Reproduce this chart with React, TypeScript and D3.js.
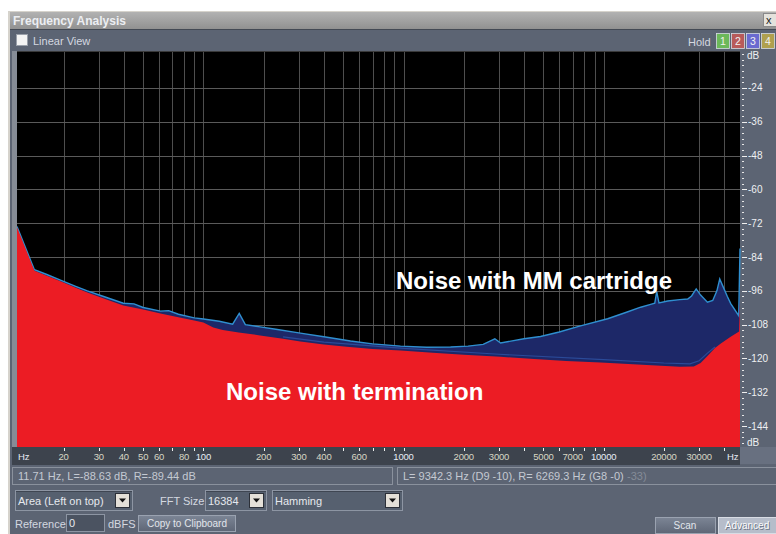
import React from 'react';
import * as d3 from 'd3';

const W = 776;
const H = 534;

// Noise with termination (red area) — [Hz]
const terminationFreq = [11.71, 14.3, 16.5, 19.3, 23, 26.3, 32, 39.8, 50, 61, 75, 90, 100, 112, 125, 150, 192, 250, 305, 400, 520, 700, 966, 1400, 2000, 3055, 4500, 6500, 9660, 14000, 19280, 24000, 28200, 30500, 33200, 36000, 38500, 43300, 47500, 48000];
const terminationDb = [-73.4, -88.9, -90.6, -92.6, -94.9, -96.6, -98.8, -101.2, -102.6, -104.0, -105.4, -106.5, -107.2, -109.0, -109.9, -110.8, -111.8, -113.0, -114.0, -115.0, -115.8, -116.6, -117.2, -118.0, -118.7, -119.4, -120.2, -120.9, -121.4, -122.0, -122.6, -122.9, -122.8, -121.6, -118.9, -116.3, -114.7, -112.2, -110.4, -99];

// Noise with MM cartridge (navy area, top outline)
const cartridgeFreq = [11.71, 14.3, 16.5, 19.3, 23, 26.3, 32, 39.8, 45, 50, 61, 67, 75, 90, 100, 120, 140, 151, 162, 192, 230, 305, 400, 543, 700, 966, 1300, 1718, 2100, 2500, 2860, 3055, 4000, 4834, 6000, 7500, 10470, 13000, 15310, 17180, 18000, 18410, 18900, 20890, 24000, 26300, 27500, 29000, 30500, 33000, 35080, 36800, 38020, 39500, 41500, 43150, 47300, 48000];
const cartridgeDb = [-73.2, -88.5, -90.2, -92.2, -94.4, -96.0, -98.1, -100.4, -100.6, -101.9, -103.2, -103.0, -104.3, -105.6, -106.0, -106.8, -107.8, -104.0, -108.0, -108.8, -109.6, -111.0, -112.3, -113.8, -114.8, -115.6, -116.0, -115.9, -115.6, -115.0, -113.0, -114.5, -113.0, -112.2, -110.6, -108.6, -105.9, -103.6, -101.8, -100.8, -100.4, -96.3, -100.3, -99.6, -99.1, -98.9, -97.8, -95.3, -97.5, -100.0, -99.4, -96.0, -91.8, -94.5, -98.0, -100.5, -104.8, -81];

// second (lower) cartridge trace, just above the termination curve
const cartridgeLowFreq = [250, 400, 1000, 3000, 10000, 20000, 27000, 30000, 33000, 36000];
const cartridgeLowDb = [-112.3, -114.2, -116.4, -118.5, -120.4, -121.6, -121.9, -120.8, -118.1, -115.9];

const dbTicks = [-24, -36, -48, -60, -72, -84, -96, -108, -120, -132, -144];
const freqLabels = [20, 30, 40, 50, 60, 80, 100, 200, 300, 400, 600, 1000, 2000, 3000, 5000, 7000, 10000, 20000, 30000];

const PL = 17, PR = 740, PT = 51, PB = 447;

export default function App() {
  const x = d3.scaleLog().domain([11.71, 48000]).range([PL, PR]);
  const y = d3.scaleLinear().domain([-151.4, -10.9]).range([PB, PT]);

  const term = terminationFreq.map((f, i) => [f, terminationDb[i]] as [number, number]);
  const cart = cartridgeFreq.map((f, i) => [f, cartridgeDb[i]] as [number, number]);
  const cartLow = cartridgeLowFreq.map((f, i) => [f, cartridgeLowDb[i]] as [number, number]);

  const area = d3.area<[number, number]>().x(d => x(d[0])).y0(PB).y1(d => y(d[1]));
  const line = d3.line<[number, number]>().x(d => x(d[0])).y(d => y(d[1]));

  const gridFreqs: number[] = [];
  for (let dec = 10; dec <= 10000; dec *= 10) {
    for (let m = 1; m <= 9; m++) {
      const f = dec * m;
      if (f > 11.71 && f < 48000) gridFreqs.push(f);
    }
  }
  const minorDb = d3.range(-150, -11, 2);

  const ui = '"Liberation Sans", Arial, sans-serif';
  const txt = '#d4d8e0';

  const dropdown = (x0: number, w: number, label: string) => (
    <g>
      <rect x={x0 + 0.5} y={490.5} width={w} height={20} fill="#56606f" stroke="#8d95a3" />
      <rect x={x0 + 1} y={491} width={w - 1} height={1} fill="#3f4652" />
      <text x={x0 + 3} y={505} fontSize={11} fill="#e6e9ee" fontFamily={ui}>{label}</text>
      <rect x={x0 + w - 16.5} y={493.5} width={14} height={14} fill="#e4e0d8" stroke="#2c3038" />
      <path d={`M${x0 + w - 13},${498.5} h7 l-3.5,4 z`} fill="#111" />
    </g>
  );

  return (
    <svg width={W} height={H} style={{ position: 'absolute', left: 0, top: 0, display: 'block' }}>
      <defs>
        <linearGradient id="title" x1="0" y1="0" x2="0" y2="1">
          <stop offset="0" stopColor="#b2b2b2" />
          <stop offset="1" stopColor="#919191" />
        </linearGradient>
        <linearGradient id="btn" x1="0" y1="0" x2="0" y2="1">
          <stop offset="0" stopColor="#7c8595" />
          <stop offset="1" stopColor="#5e6676" />
        </linearGradient>
        <clipPath id="plot">
          <rect x={PL} y={PT} width={PR - PL + 1} height={PB - PT} />
        </clipPath>
      </defs>
      <rect x={0} y={0} width={W} height={H} fill="#ffffff" />
      {/* window frame */}
      <rect x={8} y={11} width={W - 8} height={H - 11} fill="#d6d3cc" />
      <rect x={10} y={12} width={W - 10} height={17} fill="url(#title)" />
      <text x={13} y={25} fontSize={12} fontWeight="bold" fill="#eceef2" fontFamily={ui}>Frequency Analysis</text>
      <rect x={763.5} y={13.5} width={13} height={13} fill="#e4e2dc" stroke="#8a8a8a" />
      <text x={766} y={24} fontSize={11} fill="#222" fontFamily={ui}>x</text>
      <rect x={10} y={29} width={W - 10} height={H - 29} fill="#5c6473" />
      <rect x={10} y={29} width={W - 10} height={1} fill="#434954" />

      {/* header row */}
      <rect x={16.5} y={34.5} width={11} height={11} fill="#f4f4f4" stroke="#9aa0aa" />
      <text x={33} y={45} fontSize={11} fill={txt} fontFamily={ui}>Linear View</text>
      <text x={688} y={46} fontSize={11} fill={txt} fontFamily={ui}>Hold</text>
      {[['1', '#6cb85a'], ['2', '#b85a5a'], ['3', '#6a6ad0'], ['4', '#b0a04e']].map((b, i) => (
        <g key={b[0]}>
          <rect x={716.5 + i * 15} y={33.5} width={13} height={15} fill={b[1]} stroke="#d8dce4" strokeWidth={0.8} />
          <text x={723 + i * 15} y={45} fontSize={10.5} fill="#f2f2f2" textAnchor="middle" fontFamily={ui}>{b[0]}</text>
        </g>
      ))}

      {/* plot */}
      <rect x={12} y={PT} width={5} height={PB - PT} fill="#868c96" />
      <rect x={PL} y={PT} width={PR - PL} height={PB - PT} fill="#000" />
      <g clipPath="url(#plot)">
        {gridFreqs.map(f => (
          <line key={f} x1={Math.round(x(f)) + 0.5} x2={Math.round(x(f)) + 0.5} y1={PT} y2={PB} stroke="#4e4e4e" />
        ))}
        {dbTicks.map(d => (
          <line key={d} x1={PL} x2={PR} y1={Math.round(y(d)) + 0.5} y2={Math.round(y(d)) + 0.5} stroke="#5a5a5a" />
        ))}
        <path d={area(cart) || ''} fill="#1d2868" />
        <path d={line(cart) || ''} fill="none" stroke="#2f8fd0" strokeWidth={1.4} />
        <path d={line(cartLow) || ''} fill="none" stroke="#2b4a98" strokeWidth={1.2} />
        <path d={area(term) || ''} fill="#ec1c24" />
      </g>
      <rect x={PL} y={PT} width={PR - PL} height={1} fill="#3a3a3a" />

      {/* right dB axis */}
      {minorDb.map(d => (
        <line key={d} x1={742} x2={744} y1={Math.round(y(d)) + 0.5} y2={Math.round(y(d)) + 0.5} stroke="#e8e8e8" />
      ))}
      {dbTicks.map(d => (
        <g key={d}>
          <line x1={742} x2={747} y1={Math.round(y(d)) + 0.5} y2={Math.round(y(d)) + 0.5} stroke="#f0f0f0" />
          <text x={748} y={y(d) + 3.5} fontSize={10} fill="#eef0f2" fontFamily={ui}>{d}</text>
        </g>
      ))}
      <text x={747} y={59} fontSize={10} fill="#eef0f2" fontFamily={ui}>dB</text>
      <text x={747} y={446} fontSize={10} fill="#eef0f2" fontFamily={ui}>dB</text>

      {/* annotations */}
      <text x={396} y={289} fontSize={24} fontWeight="bold" fill="#ffffff" fontFamily={ui}>Noise with MM cartridge</text>
      <text x={226} y={400} fontSize={24} fontWeight="bold" fill="#ffffff" fontFamily={ui}>Noise with termination</text>

      {/* x axis band */}
      <rect x={12} y={PB} width={PR - 12} height={18} fill="#3d434d" />
      <rect x={PR} y={PB} width={W - PR} height={17} fill="#687080" />
      {gridFreqs.map(f => (
        <line key={f} x1={Math.round(x(f)) + 0.5} x2={Math.round(x(f)) + 0.5} y1={PB + 1} y2={PB + 4} stroke="#f0f0f0" />
      ))}
      {freqLabels.map(f => (
        <text key={f} x={x(f)} y={PB + 12.5} fontSize={9.5} fill={f === 100 || f === 1000 || f === 10000 ? '#e6ecf4' : '#d8d6c4'} textAnchor="middle" fontFamily={ui} letterSpacing={-0.2}>{f}</text>
      ))}
      <text x={18} y={PB + 13} fontSize={9.5} fill="#e6ecf4" fontFamily={ui}>Hz</text>
      <text x={727} y={PB + 13} fontSize={9.5} fill="#e6ecf4" fontFamily={ui}>Hz</text>

      {/* status row */}
      <rect x={12.5} y={467.5} width={380} height={17} fill="#5c6473" stroke="#8a919d" />
      <text x={18} y={480} fontSize={11} fill="#c4c9d2" fontFamily={ui}>11.71 Hz, L=-88.63 dB, R=-89.44 dB</text>
      <rect x={397.5} y={467.5} width={380} height={17} fill="#5c6473" stroke="#8a919d" />
      <text x={403} y={480} fontSize={11} fill="#c4c9d2" fontFamily={ui}>L= 9342.3 Hz (D9 -10), R= 6269.3 Hz (G8 -0)</text>
      <text x={627} y={480} fontSize={11} fill="#858c98" fontFamily={ui}>-33)</text>

      {/* controls */}
      {dropdown(15, 117, 'Area (Left on top)')}
      <text x={160} y={505} fontSize={11} fill={txt} fontFamily={ui}>FFT Size</text>
      {dropdown(205, 61, '16384')}
      {dropdown(272, 130, 'Hamming')}

      <text x={15} y={528} fontSize={11} fill={txt} fontFamily={ui}>Reference</text>
      <rect x={66.5} y={514.5} width={38} height={17} fill="#4b5361" stroke="#8d95a3" />
      <text x={69} y={527} fontSize={11} fill="#e6e9ee" fontFamily={ui}>0</text>
      <text x={108} y={528} fontSize={11} fill={txt} fontFamily={ui}>dBFS</text>
      <rect x={138.5} y={515.5} width={97} height={16} fill="url(#btn)" stroke="#9aa2b0" />
      <text x={187} y={527} fontSize={10} fill="#e2e6ec" textAnchor="middle" fontFamily={ui}>Copy to Clipboard</text>
      <rect x={655.5} y={517.5} width={60} height={16} fill="url(#btn)" stroke="#9aa2b0" />
      <text x={685} y={529} fontSize={10} fill="#e2e6ec" textAnchor="middle" fontFamily={ui}>Scan</text>
      <rect x={718.5} y={517.5} width={58} height={16} fill="#b6bdca" stroke="#d8dce4" />
      <text x={748} y={530} fontSize={10} fill="#6a7282" textAnchor="middle" fontFamily={ui}>Advanced</text>
      <text x={747} y={529} fontSize={10} fill="#fafbfc" textAnchor="middle" fontFamily={ui}>Advanced</text>
    </svg>
  );
}
